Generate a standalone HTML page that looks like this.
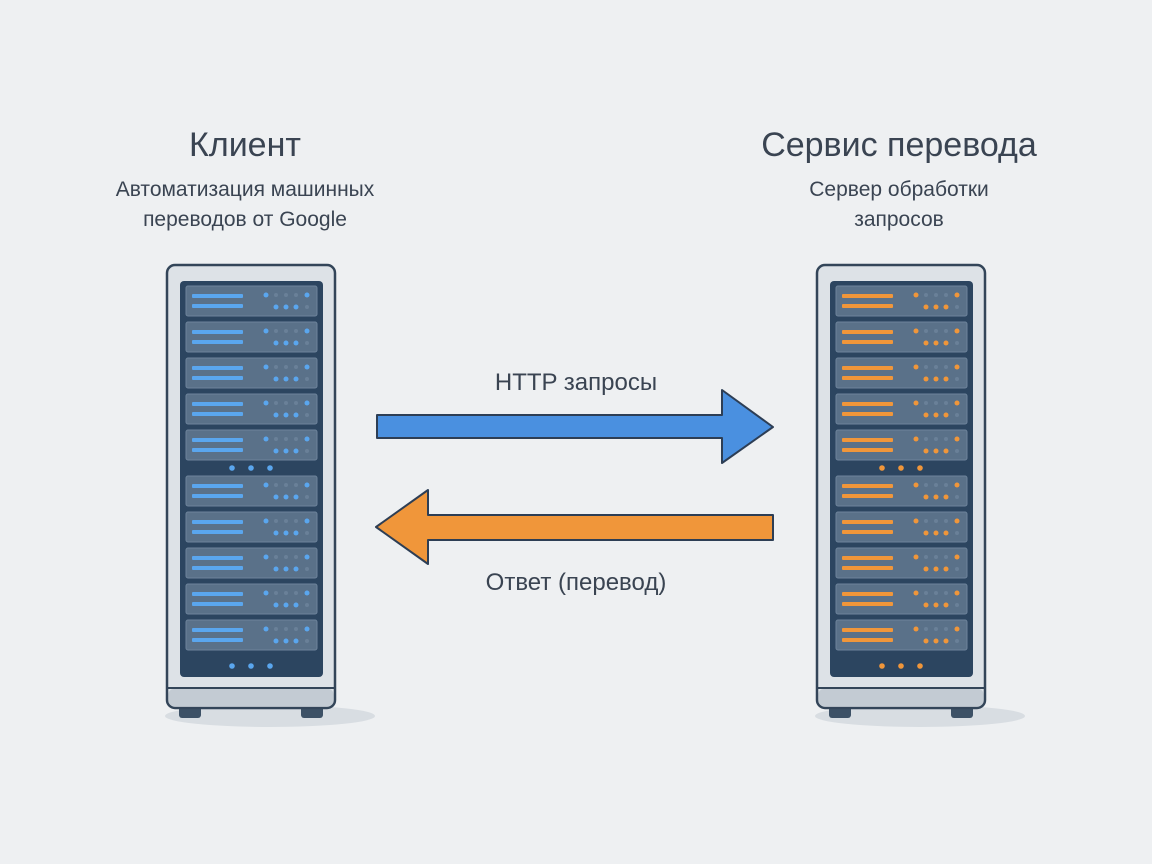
<!DOCTYPE html>
<html><head><meta charset="utf-8"><style>
html,body{margin:0;padding:0;background:#eef0f2;}
svg{display:block}
text{font-family:"Liberation Sans",sans-serif;fill:#3a4452;text-anchor:middle}
</style></head><body>
<svg id="s" width="1152" height="864" viewBox="0 0 1152 864" xmlns="http://www.w3.org/2000/svg">
<rect width="1152" height="864" fill="#eef0f2"/>
<text x="245" y="156" font-size="34">Клиент</text>
<text x="245" y="196" font-size="21" fill="#2e3642">Автоматизация машинных</text>
<text x="245" y="226" font-size="21" fill="#2e3642">переводов от Google</text>
<text x="899" y="156" font-size="34">Сервис перевода</text>
<text x="899" y="196" font-size="21" fill="#2e3642">Сервер обработки</text>
<text x="899" y="226" font-size="21" fill="#2e3642">запросов</text>
<text x="576" y="390" font-size="24" fill="#1a2029">HTTP запросы</text>
<text x="576" y="590" font-size="24" fill="#1a2029">Ответ (перевод)</text>
<polygon points="377,415 722,415 722,390 773,427 722,463 722,438 377,438" fill="#4a90e0" stroke="#2d3e55" stroke-width="2" stroke-linejoin="round"/>
<polygon points="773,515 428,515 428,490 376,527 428,564 428,540 773,540" fill="#f0963a" stroke="#2d3e55" stroke-width="2" stroke-linejoin="round"/>
<g id="racks"></g>
</svg>
<script>
function rack(x0,c){
 let s='';
 s+=`<ellipse cx="${x0+103}" cy="716" rx="105" ry="11" fill="#d8dde2"/>`;
 s+=`<rect x="${x0+12}" y="704" width="22" height="14" rx="3" fill="#3d5166"/>`;
 s+=`<rect x="${x0+134}" y="704" width="22" height="14" rx="3" fill="#3d5166"/>`;
 s+=`<rect x="${x0}" y="265" width="168" height="443" rx="8" fill="#dde2e7" stroke="#334559" stroke-width="2.5"/>`;
 s+=`<rect x="${x0+1.5}" y="689" width="165" height="17" rx="5" fill="#c3cbd3"/>`;
 s+=`<line x1="${x0}" y1="688" x2="${x0+168}" y2="688" stroke="#334559" stroke-width="2"/>`;
 s+=`<rect x="${x0+13}" y="281" width="143" height="396" rx="4" fill="#2c4560"/>`;
 const ys=[286,322,358,394,430,476,512,548,584,620];
 for(const y of ys){
  s+=`<rect x="${x0+19}" y="${y}" width="131" height="30" rx="2" fill="#5a7189" stroke="#6e849b" stroke-width="1"/>`;
  s+=`<rect x="${x0+25}" y="${y+8}" width="51" height="4" rx="1" fill="${c}"/>`;
  s+=`<rect x="${x0+25}" y="${y+18}" width="51" height="4" rx="1" fill="${c}"/>`;
  s+=`<circle cx="${x0+99}" cy="${y+9}" r="2.5" fill="${c}"/>`;
  for(const dx of [109,119,129]) s+=`<circle cx="${x0+dx}" cy="${y+9}" r="2" fill="#6a8098"/>`;
  s+=`<circle cx="${x0+140}" cy="${y+9}" r="2.5" fill="${c}"/>`;
  for(const dx of [109,119,129]) s+=`<circle cx="${x0+dx}" cy="${y+21}" r="2.5" fill="${c}"/>`;
  s+=`<circle cx="${x0+140}" cy="${y+21}" r="2" fill="#6a8098"/>`;
 }
 for(const y of [468,666]) for(const dx of [65,84,103]) s+=`<circle cx="${x0+dx}" cy="${y}" r="2.8" fill="${c}"/>`;
 return s;
}
document.getElementById('racks').innerHTML=rack(167,'#5aa6ee')+rack(817,'#f0963a');
</script>
</body></html>
